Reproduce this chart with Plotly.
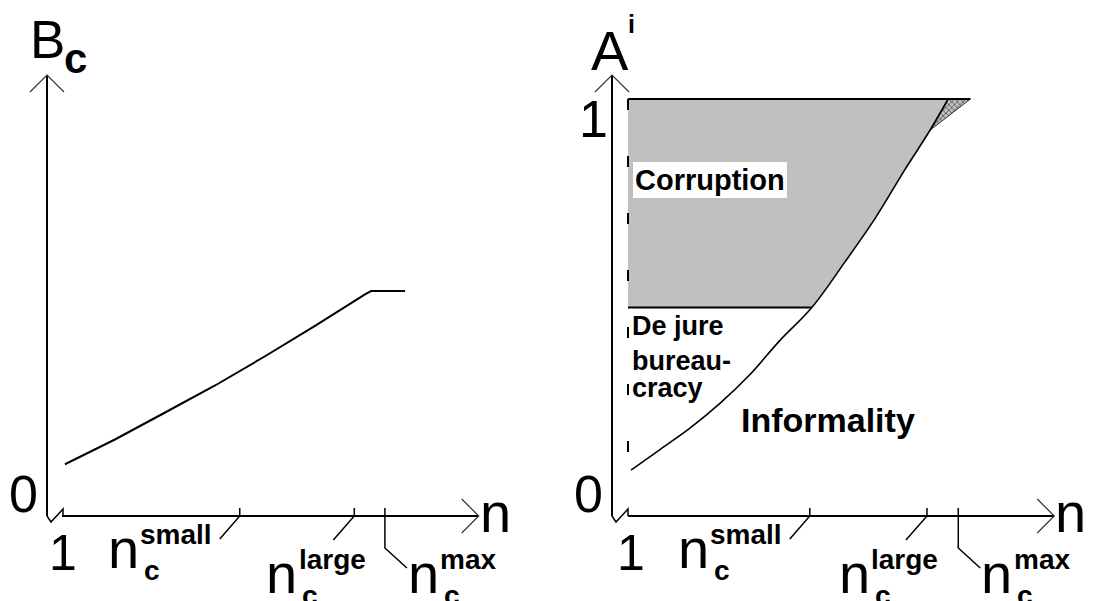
import plotly.graph_objects as go

# ---- values ----
n_marks = [1, 10, 15.8, 17.35]            # 1, n_c^small, n_c^large, n_c^max
mark_names = ["small", "large", "max"]

# left panel: B_c against n
bc_n = [1.15, 3.68, 6.22, 8.75, 11.28, 13.81, 16.34, 16.65, 18.37]
bc_val = [0.23, 0.34, 0.46, 0.58, 0.71, 0.845, 0.985, 1.0, 1.0]

# right panel: informality threshold A^i against n
thr_n = [1.15, 2.6, 4.05, 5.55, 7.05, 8.5, 10.1, 11.75, 13.25, 14.7, 15.95, 16.85]
thr_a = [0.11, 0.16, 0.21, 0.27, 0.34, 0.42, 0.50, 0.61, 0.715, 0.83, 0.925, 1.0]
a_split = 0.5       # de jure bureaucracy / corruption
a_top = 1.0
n_top_end = 17.95
n_axis_end = 22.1

# ---- page geometry (pixels) ----
W, H = 1100, 601
Y0 = 516
FONT = "Liberation Sans"
panels = {
    "L": dict(xr="x", yr="y", n1=62, kx=19.75, lo=0, hi=550, ky=225, ytip=75, ox=47),
    "R": dict(xr="x2", yr="y2", n1=628, kx=20.2, lo=550, hi=1100, ky=417, ytip=75, ox=612),
}
for p in panels.values():
    p["xrange"] = [1 + (p["lo"] - p["n1"]) / p["kx"], 1 + (p["hi"] - p["n1"]) / p["kx"]]
    p["yrange"] = [-(H - Y0) / p["ky"], Y0 / p["ky"]]
    p["n0"] = 1 + (p["ox"] - p["n1"]) / p["kx"]
    p["tip"] = (Y0 - p["ytip"]) / p["ky"]

fig = go.Figure()


def line(p, xs, ys, width=2, dash=None, color="black", shape="linear", smooth=None):
    fig.add_trace(go.Scatter(x=xs, y=ys, mode="lines", xaxis=p["xr"], yaxis=p["yr"],
                             line=dict(color=color, width=width, dash=dash,
                                       shape=shape, smoothing=smooth),
                             hoverinfo="skip"))


def pix(p, xa, ya, path, width=1.5, color="black"):
    fig.add_shape(type="path", xref=p["xr"], yref=p["yr"], xsizemode="pixel",
                  ysizemode="pixel", xanchor=xa, yanchor=ya, path=path,
                  line=dict(color=color, width=width))


def label(p, x, y, text, size, dx, dy, bold=False, xanchor="center", bg=None):
    fig.add_annotation(xref=p["xr"], yref=p["yr"], x=x, y=y, text=text, showarrow=False,
                       xanchor=xanchor, yanchor="middle", xshift=dx, yshift=-dy,
                       font=dict(family=FONT, size=size, color="black",
                                 weight="bold" if bold else "normal"),
                       bgcolor=bg, bordercolor=bg, borderpad=1)


# ---- right panel regions (drawn first so lines sit on top) ----
R = panels["R"]
up_n = [n for n, a in zip(thr_n, thr_a) if a >= a_split]
up_a = [a for a in thr_a if a >= a_split]
fig.add_trace(go.Scatter(x=[1] + up_n[::-1] + [1], y=[a_top] + up_a[::-1] + [a_split],
                         fill="toself", fillcolor="#c0c0c0", mode="none",
                         xaxis="x2", yaxis="y2", hoverinfo="skip"))
fig.add_trace(go.Scatter(x=[thr_n[-2], thr_n[-1], n_top_end, thr_n[-2]],
                         y=[thr_a[-2], thr_a[-1], a_top, thr_a[-2]],
                         fill="toself", fillcolor="#c0c0c0", mode="lines",
                         line=dict(color="#333", width=1),
                         fillpattern=dict(shape="x", fgcolor="black", bgcolor="#c0c0c0",
                                          size=4, solidity=0.4),
                         xaxis="x2", yaxis="y2", hoverinfo="skip"))
line(R, [1, n_top_end], [a_top, a_top], width=2)
line(R, [1, thr_n[thr_a.index(a_split)]], [a_split, a_split], width=2)
line(R, [1, 1], [a_top, thr_a[0]], width=2, dash="11px,46px")
line(R, thr_n, thr_a, width=1.6, shape="spline", smooth=1)

# ---- left panel curve ----
L = panels["L"]
line(L, bc_n, bc_val, width=2)

# ---- axes, arrows, ticks ----
for p in panels.values():
    line(p, [p["n0"], p["n0"]], [0, p["tip"]], width=2)
    line(p, [1, n_axis_end], [0, 0], width=2)
    pix(p, p["n0"], p["tip"], "M -17,-17 L 0,0 L 17,-17", width=1.2, color="#333")
    pix(p, n_axis_end, 0, "M -17,17 L 0,0 L -17,-17", width=1.2, color="#333")
    pix(p, p["n0"], 0, "M 0,0 L 4,-6 L 16,7 L 16,0", width=1.5)
    pix(p, n_marks[1], 0, "M 0,8 L 0,0 L -20,-23", width=1.5)
    pix(p, n_marks[2], 0, "M 0,8 L 0,0 L -21,-24", width=1.5)
    pix(p, n_marks[3], 0, "M 0,8 L 0,-32 L 22,-52", width=1.5)

    label(p, p["n0"], 0, "0", 52, -23.5, -22)
    label(p, 1, 0, "1", 50, 1 if p is L else 2.5, 36.7)
    label(p, n_axis_end, 0, "n", 56, 16.5, -3.4)

    # n_c^small / n_c^large / n_c^max
    n_dx = [-128, -84, 27]
    base = [52, 77, 77]
    for k, name in enumerate(mark_names):
        t = n_marks[k + 1]
        label(p, t, 0, "n", 56, n_dx[k] - 6, base[k] - 19.4, xanchor="left")
        label(p, t, 0, "c", 28, n_dx[k] + 30, base[k] + 12 - 9.7, bold=True, xanchor="left")
        label(p, t, 0, name, 28, n_dx[k] + 26.5, base[k] - 24 - 9.7, bold=True, xanchor="left")

label(L, L["n0"], L["tip"], "B", 53, 0.5, -35.4)
label(L, L["n0"], L["tip"], "c", 42, 28, -16.6, bold=True)
label(R, R["n0"], R["tip"], "A", 56, -2, -24.4)
label(R, R["n0"], R["tip"], "i", 25, 19, -50.7, bold=True)
label(R, R["n0"], a_top, "1", 52, -18.5, 20)

label(R, 1, a_top, "Corruption", 29, 5, 81, bold=True, xanchor="left", bg="white")
for txt, dy in [("De jure", 18.6), ("bureau-", 53.6), ("cracy", 80.6)]:
    label(R, 1, a_split, txt, 27, 2, dy, bold=True, xanchor="left")
label(R, n_marks[1], 0, "Informality", 34, -71, -95.8, bold=True, xanchor="left")

ax = dict(visible=False, fixedrange=True)
fig.update_layout(
    width=W, height=H, margin=dict(l=0, r=0, t=0, b=0),
    paper_bgcolor="white", plot_bgcolor="white", showlegend=False,
    xaxis=dict(ax, domain=[0, 0.5], range=L["xrange"], anchor="y"),
    yaxis=dict(ax, domain=[0, 1], range=L["yrange"], anchor="x"),
    xaxis2=dict(ax, domain=[0.5, 1], range=R["xrange"], anchor="y2"),
    yaxis2=dict(ax, domain=[0, 1], range=R["yrange"], anchor="x2"),
)

# the page body has a default 8px margin; drop it so the figure starts at the corner
fig.write_html("out.html", config={"displayModeBar": False},
               post_script="document.body.style.margin='0';")
